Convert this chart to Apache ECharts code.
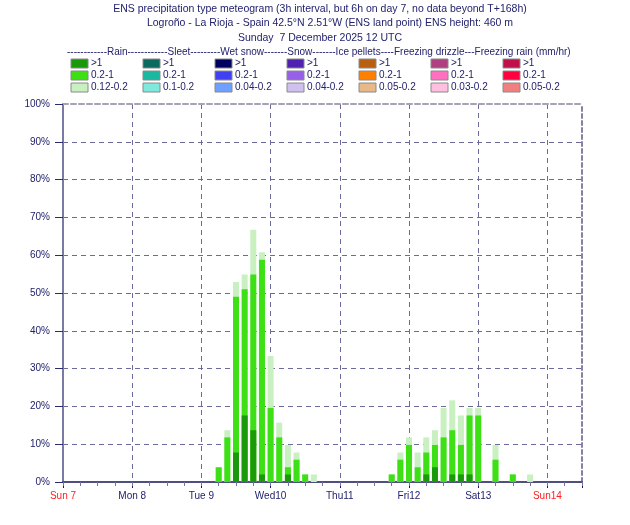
<!DOCTYPE html>
<html><head><meta charset="utf-8">
<script src="https://cdn.jsdelivr.net/npm/echarts@6/dist/echarts.min.js"></script>
<style>html,body{margin:0;padding:0;background:#fff}#c{width:630px;height:525px}</style>
</head><body><div id="c"></div>
<script>
// Hours since Sunday 7 December 2025 00 UTC
const hours = [66,69,72,75,78,81,84,87,90,93,96,99,126,129,132,135,138,141,144,147,150,153,156,162,168,174];
// Rain probability (%) of exceeding thresholds (mm/hr)
const rainOver012 = [3.9,13.7,52.9,54.9,66.7,60.8,33.3,15.7,9.8,7.8,2.0,2.0,2.0,7.8,11.8,7.8,11.8,13.7,19.6,21.6,17.6,19.6,19.6,9.8,2.0,2.0];
const rainOver02  = [3.9,11.8,49.0,51.0,54.9,58.8,19.6,11.8,3.9,5.9,2.0,0,2.0,5.9,9.8,3.9,7.8,9.8,11.8,13.7,9.8,17.6,17.6,5.9,2.0,0];
const rainOver1   = [0,0,7.8,17.6,13.7,2.0,0,0,2.0,0,0,0,0,0,0,0,2.0,3.9,0,2.0,2.0,2.0,0,0,0,0];
const dayLabels = ['Sun 7','Mon 8','Tue 9','Wed10','Thu11','Fri12','Sat13','Sun14'];

const legendTypes = ['Rain','Sleet','Wet snow','Snow','Ice pellets','Freezing drizzle','Freezing rain'];
const legendColors = [
  ['#1a9a0a','#3ce014','#c8f0c0'],
  ['#0a6a60','#1ab8a0','#80e8dc'],
  ['#000060','#4040f0','#70a0ff'],
  ['#5020b0','#9860e8','#d0c0f0'],
  ['#b86010','#ff8000','#e8b888'],
  ['#b04080','#ff70c0','#ffc0e0'],
  ['#c0104a','#ff0040','#f08080']
];
const legendLabels = [
  ['>1','0.2-1','0.12-0.2'],
  ['>1','0.2-1','0.1-0.2'],
  ['>1','0.2-1','0.04-0.2'],
  ['>1','0.2-1','0.04-0.2'],
  ['>1','0.2-1','0.05-0.2'],
  ['>1','0.2-1','0.03-0.2'],
  ['>1','0.2-1','0.05-0.2']
];
const legendHeader = '------------Rain------------Sleet---------Wet snow-------Snow-------Ice pellets----Freezing drizzle---Freezing rain (mm/hr)';

const FONT = '"Liberation Sans", Arial, Helvetica, sans-serif';
const NAVY = '#22226e';

function pairs(vals){ return hours.map((h,i)=>[h, vals[i]]).filter(p=>p[1]>0); }

const graphic = [];
graphic.push({type:'text', x:320, y:4, style:{text:'ENS precipitation type meteogram (3h interval, but 6h on day 7, no data beyond T+168h)', font:'10.5px '+FONT, fill:NAVY, align:'center'}});
graphic.push({type:'text', x:330, y:18, style:{text:'Logroño - La Rioja - Spain 42.5°N 2.51°W (ENS land point) ENS height: 460 m', font:'10.5px '+FONT, fill:NAVY, align:'center'}});
graphic.push({type:'text', x:320, y:33, style:{text:'Sunday  7 December 2025 12 UTC', font:'10.5px '+FONT, fill:NAVY, align:'center'}});
graphic.push({type:'text', x:67, y:47, style:{text:legendHeader, font:'10px '+FONT, fill:NAVY}});
legendTypes.forEach((t,c)=>{
  const x0 = 71 + 72*c;
  for(let r=0;r<3;r++){
    const y0 = 59 + 12*r;
    graphic.push({type:'rect', shape:{x:x0, y:y0, width:17, height:9}, style:{fill:legendColors[c][r], stroke:'#8a8a8a', lineWidth:1}});
    graphic.push({type:'text', x:x0+20, y:y0-1, style:{text:legendLabels[c][r], font:'10px '+FONT, fill:NAVY}});
  }
});

const chart = echarts.init(document.getElementById('c'), null, {renderer:'canvas'});
chart.setOption({
  animation:false,
  backgroundColor:'#fff',
  graphic: graphic,
  grid:{left:63, right:48, top:104, bottom:43},
  xAxis:[
    {type:'value', min:12, max:192, interval:12, position:'bottom',
     axisLine:{show:true, onZero:false, lineStyle:{color:'#50507e', width:2}},
     axisTick:{show:false}, splitLine:{show:false},
     axisLabel:{margin:9, fontFamily:FONT, fontSize:10, color:NAVY, showMaxLabel:false,
       formatter:function(v){ const k=(v-12)/24; if(Number.isInteger(k) && dayLabels[k]!==undefined){ return dayLabels[k].indexOf('Sun')===0 ? '{r|'+dayLabels[k]+'}' : dayLabels[k]; } return ''; },
       rich:{r:{color:'#ff2020', fontFamily:FONT, fontSize:10}}}},
    {type:'value', min:12, max:192, interval:24, position:'bottom',
     axisLine:{show:false}, axisLabel:{show:false},
     axisTick:{show:true, length:6, lineStyle:{color:'#1a1a60', width:1}},
     splitLine:{show:true, showMinLine:false, showMaxLine:false, lineStyle:{color:'#6a6a9c', type:[5,4], width:1}}},
    {type:'value', min:12, max:192, interval:6, position:'bottom',
     axisLine:{show:false}, axisLabel:{show:false},
     axisTick:{show:true, length:4, lineStyle:{color:'#7474a4', width:1}},
     splitLine:{show:false}},
    {type:'value', min:12, max:192, position:'top',
     axisLine:{show:true, lineStyle:{color:'#a8a0b8', type:[5,3], width:2}},
     axisLabel:{show:false}, axisTick:{show:false}, splitLine:{show:false}}
  ],
  yAxis:[
    {type:'value', min:0, max:100, interval:10, position:'left',
     axisLine:{show:true, lineStyle:{color:'#7a7aa2', width:2}},
     axisTick:{show:true, length:8, lineStyle:{color:'#2a2a70', width:1}},
     axisLabel:{margin:13, fontFamily:FONT, fontSize:10, color:NAVY, formatter:function(v){return v+'%';}},
     splitLine:{show:true, showMinLine:false, showMaxLine:false, lineStyle:{color:'#6a6a9c', type:[5,4], width:1}}},
    {type:'value', min:0, max:100, position:'right',
     axisLine:{show:true, lineStyle:{color:'#8a80a0', type:[4,3], width:2}},
     axisLabel:{show:false}, axisTick:{show:false}, splitLine:{show:false}}
  ],
  series:[
    {type:'bar', name:'0.12-0.2', xAxisIndex:0, yAxisIndex:0, barWidth:6, barGap:'-100%', data:pairs(rainOver012), itemStyle:{color:'#c8f0c0'}, z:2},
    {type:'bar', name:'0.2-1', xAxisIndex:0, yAxisIndex:0, barWidth:6, barGap:'-100%', data:pairs(rainOver02), itemStyle:{color:'#3ce014'}, z:3},
    {type:'bar', name:'>1', xAxisIndex:0, yAxisIndex:0, barWidth:6, barGap:'-100%', data:pairs(rainOver1), itemStyle:{color:'#1a9a0a'}, z:4}
  ]
});
</script>
</body></html>
